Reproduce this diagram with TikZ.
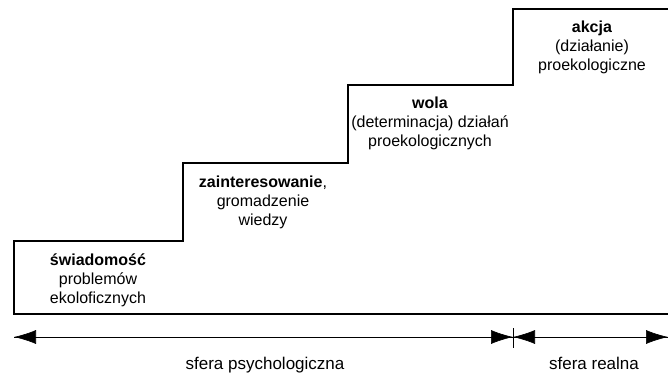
\documentclass[tikz,border=0pt]{standalone}
\usepackage{fontspec}
\setmainfont{Liberation Sans}
\usetikzlibrary{arrows.meta}
\begin{document}
\begin{tikzpicture}[x=1pt,y=-1pt,
  outline/.style={line width=1.3pt, line join=miter},
  steptext/.style={align=center, anchor=north, inner sep=0pt, font=\fontsize{16}{19}\selectfont},
  sferatext/.style={anchor=base, inner sep=0pt, font=\fontsize{17}{20}\selectfont},
  axis/.style={line width=0.6pt},
  tip/.style={-{Latex[length=22pt,width=14pt]}}]
\useasboundingbox (0,0) rectangle (668,372);
% staircase
\coordinate (p0) at (668,314);
\coordinate (p1) at (14,314);
\coordinate (p2) at (14,241);
\coordinate (p3) at (183,241);
\coordinate (p4) at (183,163);
\coordinate (p5) at (348,163);
\coordinate (p6) at (348,85);
\coordinate (p7) at (513,85);
\coordinate (p8) at (513,9);
\coordinate (p9) at (668,9);
\draw[outline] (p0) -- (p1) -- (p2) -- (p3) -- (p4) -- (p5) -- (p6) -- (p7) -- (p8) -- (p9);
% texts
\node[steptext] (s1) at (98,251.5) {\strut\textbf{świadomość}\\problemów\\ekoloficznych};
\node[steptext] (s2) at (263,174) {\strut\textbf{zainteresowanie},\\gromadzenie\\wiedzy};
\node[steptext] (s3) at (430,95) {\strut\textbf{wola}\\(determinacja) działań\\proekologicznych};
\node[steptext] (s4) at (592,19) {\strut\textbf{akcja}\\(działanie)\\proekologiczne};
% axis
\coordinate (aL) at (14,337);
\coordinate (aM) at (513,337);
\coordinate (aR) at (668,337);
\coordinate (tT) at (513,328);
\coordinate (tB) at (513,348);
\draw[axis,tip] (aM) -- (aL);
\draw[axis,tip] (aL) -- (aM);
\draw[axis,tip] (aM) -- (aR);
\draw[axis,tip] (aR) -- (aM);
\draw[axis] (tT) -- (tB);
\node[sferatext] (l1) at (265,369) {sfera psychologiczna};
\node[sferatext] (l2) at (594,369) {sfera realna};
\end{tikzpicture}
\end{document}
